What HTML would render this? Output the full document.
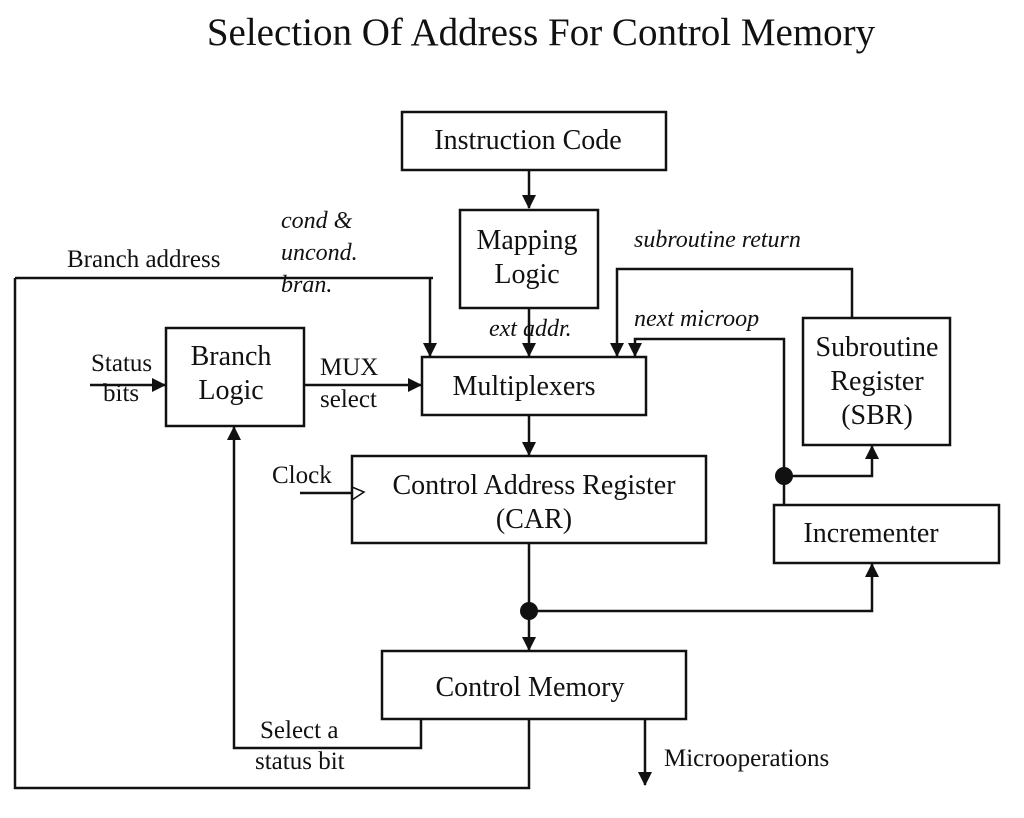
<!DOCTYPE html>
<html><head><style>body{margin:0;background:#fff}svg{display:block}text{font-family:"Liberation Serif",serif;fill:#111}</style></head><body>
<svg width="1024" height="818" viewBox="0 0 1024 818" xmlns="http://www.w3.org/2000/svg">
<defs><marker id="b" markerWidth="14" markerHeight="14" refX="13" refY="7" orient="auto" markerUnits="userSpaceOnUse" viewBox="0 0 14 14"><path d="M0,0 L14,7 L0,14 z" fill="#111"/></marker></defs>
<text x="541" y="45" font-size="39" text-anchor="middle">Selection Of Address For Control Memory</text>
<g fill="none" stroke="#111" stroke-width="2.5">
<rect x="402" y="112" width="264" height="58"/>
<rect x="460" y="210" width="138" height="98"/>
<rect x="166" y="328" width="138" height="98"/>
<rect x="422" y="357" width="224" height="58"/>
<rect x="352" y="456" width="354" height="87"/>
<rect x="803" y="318" width="147" height="127"/>
<rect x="774" y="505" width="225" height="58"/>
<rect x="382" y="651" width="304" height="68"/>
</g>
<g fill="none" stroke="#111" stroke-width="2.5" marker-end="url(#b)">
<path d="M529 170V208"/>
<path d="M529 308V356"/>
<path d="M15 278H433M430 278V356" />
<path d="M90 385H165"/>
<path d="M304 385H421"/>
<path d="M529 415V455"/>
<path d="M529 543V650"/>
<path d="M529 611H872V564"/>
<path d="M784 505V339H635V356"/>
<path d="M784 476H872V446"/>
<path d="M852 318V269H617V356"/>
<path d="M421 719V748H234V427"/>
<path d="M645 719V785"/>
</g>
<g fill="none" stroke="#111" stroke-width="2.5">
<path d="M15 278V788H529V719"/>
<path d="M300 493H352"/>
<path d="M352 487L364 492L352 500" stroke-width="1.5"/>
</g>
<circle cx="529" cy="611" r="9" fill="#111"/>
<circle cx="784" cy="476" r="9" fill="#111"/>
<g font-size="28" text-anchor="middle">
<text x="528" y="149">Instruction Code</text>
<text x="527" y="249">Mapping</text><text x="527" y="283">Logic</text>
<text x="231" y="365">Branch</text><text x="231" y="399">Logic</text>
<text x="524" y="395">Multiplexers</text>
<text x="534" y="494">Control Address Register</text><text x="534" y="528">(CAR)</text>
<text x="877" y="356">Subroutine</text><text x="877" y="390">Register</text><text x="877" y="424">(SBR)</text>
<text x="871" y="542">Incrementer</text>
<text x="530" y="696">Control Memory</text>
</g>
<g font-size="25">
<text x="67" y="267">Branch address</text>
<text x="91" y="371">Status</text><text x="103" y="401">bits</text>
<text x="320" y="375">MUX</text><text x="320" y="407">select</text>
<text x="272" y="483">Clock</text>
<text x="260" y="738">Select a</text><text x="255" y="769">status bit</text>
<text x="664" y="766">Microoperations</text>
</g>
<g font-size="24" font-style="italic">
<text x="281" y="228">cond &amp;</text><text x="281" y="260">uncond.</text><text x="281" y="292">bran.</text>
<text x="489" y="336">ext addr.</text>
<text x="634" y="247">subroutine return</text>
<text x="634" y="326">next microop</text>
</g>
</svg>
</body></html>
